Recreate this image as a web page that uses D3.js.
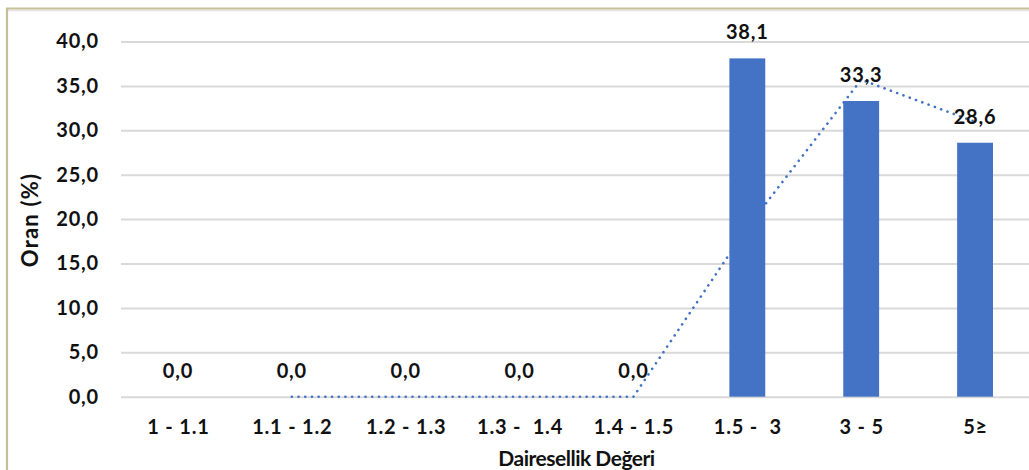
<!DOCTYPE html>
<html>
<head>
<meta charset="utf-8">
<script src="https://cdn.jsdelivr.net/npm/d3@7"></script>
<style>
  html, body { margin: 0; padding: 0; background: #ffffff; }
  svg { display: block; }
  text { font-family: Lato, "Open Sans", sans-serif; fill: #111; }
</style>
</head>
<body>
<svg id="chart" width="1029" height="470"></svg>
<script>
const categories = ["1 - 1.1", "1.1 - 1.2", "1.2 - 1.3", "1.3 -  1.4", "1.4 - 1.5", "1.5 -  3", "3 - 5", "5≥"];
const values = [0.0, 0.0, 0.0, 0.0, 0.0, 38.1, 33.3, 28.6];
const trendValues = [null, 0.0, 0.0, 0.0, 0.0, 19.05, 35.7, 30.95];
const yTicks = [0, 5, 10, 15, 20, 25, 30, 35, 40];
const yTitle = "Oran (%)";
const xTitle = "Dairesellik Değeri";

const svg = d3.select("#chart");
const W = 1029, H = 470;
const plot = { left: 121, right: 1032, top: 41.5, bottom: 396.7 };

const fmt = v => d3.format(".1f")(v).replace(".", ",");

// frame
svg.append("rect").attr("x", 0).attr("y", 0).attr("width", W).attr("height", H).attr("fill", "#fff");
svg.append("line").attr("x1", 7).attr("x2", W).attr("y1", 10.5).attr("y2", 10.5)
  .attr("stroke", "#e3e3e3").attr("stroke-width", 1.5);
svg.append("path").attr("d", `M7,${H + 5}V8.5H${W + 5}`)
  .attr("fill", "none").attr("stroke", "#c8bf98").attr("stroke-width", 2.2);

const x = d3.scaleBand().domain(categories).range([plot.left, plot.right]).paddingInner(0.685).paddingOuter(0.3425);
const xc = d3.scalePoint().domain(categories).range([plot.left, plot.right]).padding(0.5);
const y = d3.scaleLinear().domain([0, 40]).range([plot.bottom, plot.top]);

// gridlines
const grid = svg.append("g")
  .attr("transform", `translate(${plot.left},0)`)
  .call(d3.axisLeft(y).tickValues(yTicks).tickSize(-(W - plot.left)).tickFormat(""));
grid.select(".domain").remove();
grid.selectAll("line").attr("stroke", "#d9d9d9").attr("stroke-width", 2);

// y tick labels
const yAxis = svg.append("g")
  .attr("transform", `translate(99,0)`)
  .call(d3.axisLeft(y).tickValues(yTicks).tickSize(0).tickPadding(0).tickFormat(fmt));
yAxis.select(".domain").remove();
yAxis.selectAll("text").attr("font-size", 20).attr("font-weight", 700).attr("fill", "#111")
  .attr("letter-spacing", 0.8)
  .attr("font-family", "Lato, 'Open Sans', sans-serif");

// trend line (behind bars)
const line = d3.line()
  .defined(d => d.v !== null)
  .x(d => xc(d.c))
  .y(d => y(d.v));
svg.append("path")
  .datum(categories.map((c, i) => ({ c, v: trendValues[i] })))
  .attr("d", line)
  .attr("fill", "none")
  .attr("stroke", "#4472c4")
  .attr("stroke-width", 2.6)
  .attr("stroke-linecap", "round")
  .attr("stroke-dasharray", "0.1 6.6");

// bars
svg.append("g").selectAll("rect")
  .data(categories.map((c, i) => ({ c, v: values[i] })))
  .join("rect")
  .attr("x", d => x(d.c))
  .attr("width", x.bandwidth())
  .attr("y", d => y(d.v))
  .attr("height", d => y(0) - y(d.v))
  .attr("fill", "#4472c4");

// data labels
svg.append("g").selectAll("text")
  .data(categories.map((c, i) => ({ c, v: values[i] })))
  .join("text")
  .attr("x", d => xc(d.c))
  .attr("y", d => y(d.v) - 19)
  .attr("text-anchor", "middle")
  .attr("font-size", 20)
  .attr("letter-spacing", 0.8)
  .attr("font-weight", 700)
  .text(d => fmt(d.v));

// x tick labels
const xAxis = svg.append("g")
  .attr("transform", `translate(0,${plot.bottom})`)
  .call(d3.axisBottom(xc).tickSize(0).tickPadding(0));
xAxis.select(".domain").remove();
xAxis.selectAll("text")
  .attr("y", 37).attr("dy", 0)
  .attr("font-size", 20).attr("font-weight", 700).attr("fill", "#111")
  .attr("letter-spacing", 0.8)
  .attr("font-family", "Lato, 'Open Sans', sans-serif")
  .style("white-space", "pre");

// axis titles
svg.append("text")
  .attr("x", (plot.left + plot.right) / 2)
  .attr("y", 466)
  .attr("text-anchor", "middle")
  .attr("font-size", 21)
  .attr("letter-spacing", -0.5)
  .attr("font-weight", 700)
  .text(xTitle);

svg.append("text")
  .attr("transform", `translate(38,220) rotate(-90)`)
  .attr("text-anchor", "middle")
  .attr("font-size", 22)
  .attr("letter-spacing", 1.2)
  .attr("font-weight", 700)
  .text(yTitle);
</script>
</body>
</html>
